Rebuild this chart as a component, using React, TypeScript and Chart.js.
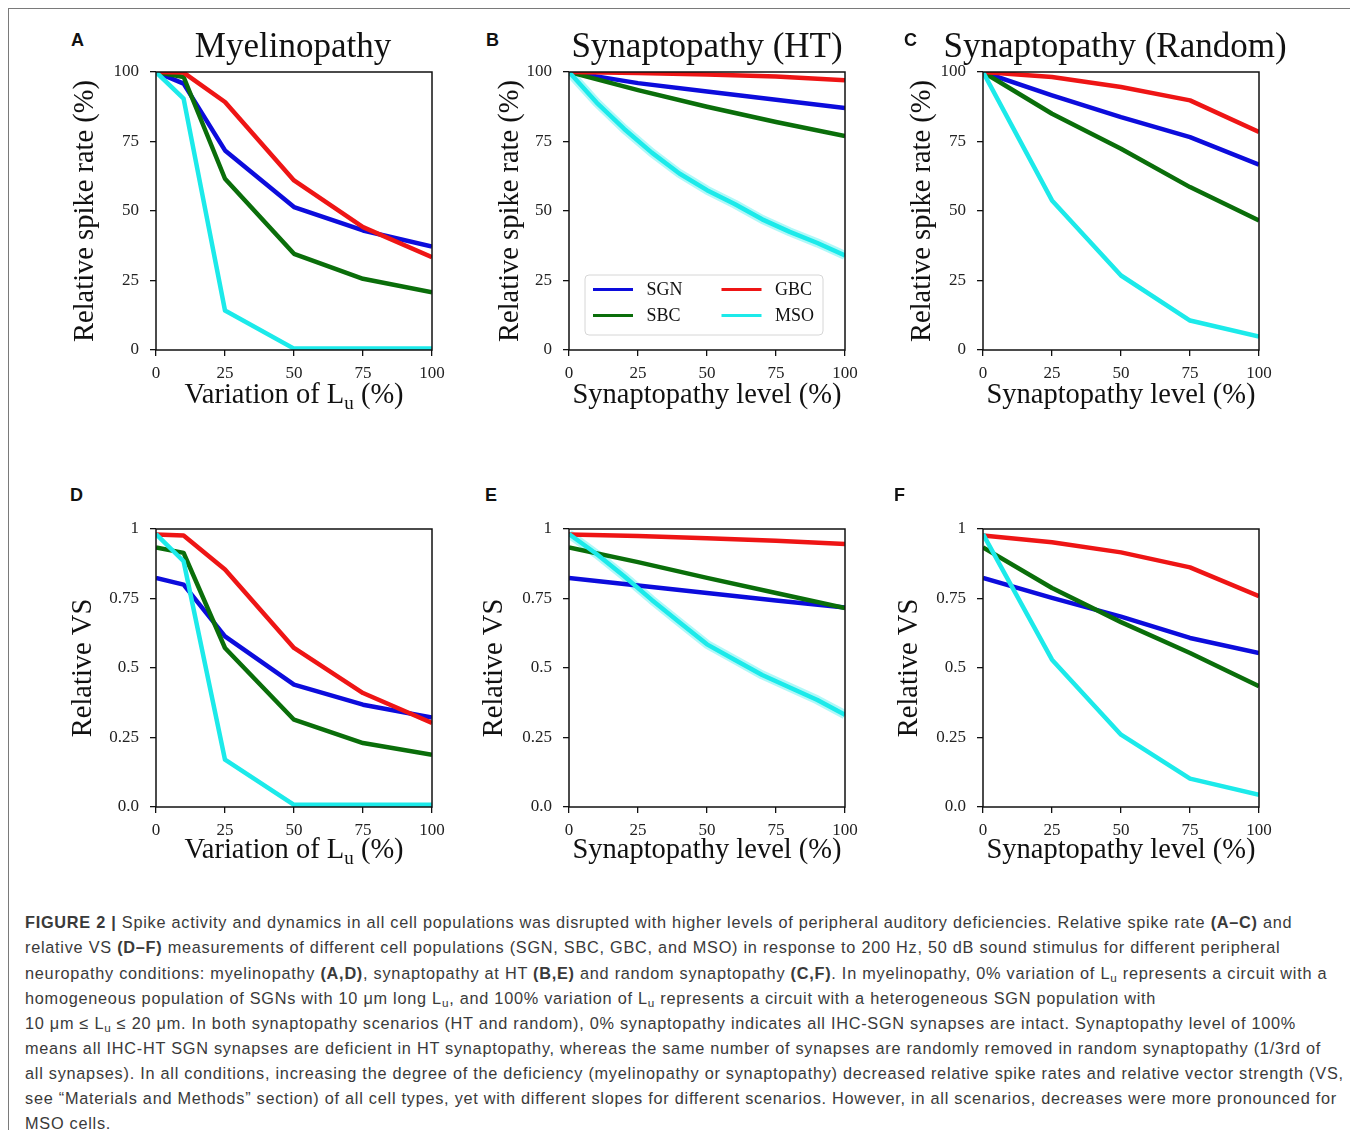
import React, { useEffect, useRef } from 'react';
import { Chart, registerables } from 'chart.js';

Chart.register(...registerables);

// ---------- data ----------
const seriesNames = ['SGN', 'SBC', 'GBC', 'MSO'];
const seriesColors = ['#0c0cdc', '#0a6e0a', '#ee1515', '#1ceaea'];

const xMyelin = [0, 10, 25, 50, 75, 100];
const xSyn = [0, 25, 50, 75, 100];
const xSynFine = [0, 10, 20, 30, 40, 50, 60, 70, 80, 90, 100];

// A: Myelinopathy, relative spike rate (%)
const spikeMyelinSGN = [100, 95.8, 71.8, 51.4, 43, 37.2];
const spikeMyelinSBC = [100, 98.2, 61.6, 34.6, 25.6, 20.8];
const spikeMyelinGBC = [100, 99.8, 89.2, 61, 44.2, 33.4];
const spikeMyelinMSO = [100, 90.4, 14.2, 0.5, 0.5, 0.5];

// B: Synaptopathy (HT), relative spike rate (%)
const spikeHtSGN = [100, 96, 93, 90, 87];
const spikeHtSBC = [100, 93.5, 87.5, 82, 77];
const spikeHtGBC = [100, 99.6, 99.1, 98.4, 97];
const spikeHtMSO = [100, 89, 79.5, 71, 63.5, 57.5, 52.5, 47, 42.5, 38.5, 34];

// C: Synaptopathy (Random), relative spike rate (%)
const spikeRandSGN = [100, 91.6, 83.8, 76.6, 66.7];
const spikeRandSBC = [100, 85, 72.4, 58.6, 46.6];
const spikeRandGBC = [100, 98.2, 94.6, 89.8, 78.4];
const spikeRandMSO = [100, 53.8, 26.8, 10.6, 4.8];

// D: Myelinopathy, relative VS
const vsMyelinSGN = [0.824, 0.8, 0.614, 0.44, 0.368, 0.322];
const vsMyelinSBC = [0.934, 0.914, 0.572, 0.314, 0.23, 0.188];
const vsMyelinGBC = [0.98, 0.977, 0.854, 0.572, 0.41, 0.302];
const vsMyelinMSO = [0.982, 0.884, 0.17, 0.008, 0.008, 0.008];

// E: Synaptopathy (HT), relative VS
const vsHtSGN = [0.824, 0.797, 0.77, 0.743, 0.718];
const vsHtSBC = [0.934, 0.881, 0.824, 0.77, 0.716];
const vsHtGBC = [0.98, 0.975, 0.967, 0.958, 0.946];
const vsHtMSO = [0.982, 0.91, 0.83, 0.745, 0.665, 0.585, 0.53, 0.475, 0.43, 0.385, 0.332];

// F: Synaptopathy (Random), relative VS
const vsRandSGN = [0.824, 0.752, 0.685, 0.608, 0.554];
const vsRandSBC = [0.934, 0.788, 0.665, 0.554, 0.434];
const vsRandGBC = [0.977, 0.952, 0.916, 0.862, 0.758];
const vsRandMSO = [0.982, 0.53, 0.26, 0.102, 0.044];

const xTickLabels = ['0', '25', '50', '75', '100'];
const spikeTickLabels = ['0', '25', '50', '75', '100'];
const vsTickLabels = ['0.0', '0.25', '0.5', '0.75', '1'];

const titleMyelin = 'Myelinopathy';
const titleHt = 'Synaptopathy (HT)';
const titleRand = 'Synaptopathy (Random)';
const yTitleSpike = 'Relative spike rate (%)';
const yTitleVs = 'Relative VS';
const xTitleMyelin = [
  { t: 'Variation of L', sub: false },
  { t: 'u', sub: true },
  { t: ' (%)', sub: false },
];
const xTitleSyn = [{ t: 'Synaptopathy level (%)', sub: false }];

// ---------- layout ----------
const SERIF = "'Liberation Serif', 'Times New Roman', Times, serif";
const SANS = "'Liberation Sans', Arial, Helvetica, sans-serif";
const PLOT_W = 276;
const PLOT_H = 278;
const Y_AXIS_W = 110;
const X_AXIS_H = 70;
const PAD_TOP = 60;
const PAD_RIGHT = 50;
const CANVAS_W = Y_AXIS_W + PLOT_W + PAD_RIGHT;
const CANVAS_H = PAD_TOP + PLOT_H + X_AXIS_H;

type Part = { t: string; sub: boolean };
type PanelSpec = {
  letter: string;
  letterPos: [number, number];
  plotLeft: number;
  plotTop: number;
  title?: string;
  titleShift?: number;
  xTitle: Part[];
  xTitleGap: number;
  yTitle: string;
  yTitleOffset: number;
  yMax: number;
  yStep: number;
  yTickLabels: string[];
  xs: number[][];
  ys: number[][];
  legend?: boolean;
  halo?: boolean;
};

const panels: PanelSpec[] = [
  {
    letter: 'A', letterPos: [71, 30.7], plotLeft: 156, plotTop: 72, title: titleMyelin, titleShift: -1,
    xTitle: xTitleMyelin, xTitleGap: 53, yTitle: yTitleSpike, yTitleOffset: 62,
    yMax: 100, yStep: 25, yTickLabels: spikeTickLabels,
    xs: [xMyelin, xMyelin, xMyelin, xMyelin],
    ys: [spikeMyelinSGN, spikeMyelinSBC, spikeMyelinGBC, spikeMyelinMSO],
  },
  {
    letter: 'B', letterPos: [486, 31.3], plotLeft: 569, plotTop: 72, title: titleHt, titleShift: 0,
    xTitle: xTitleSyn, xTitleGap: 53, yTitle: yTitleSpike, yTitleOffset: 50,
    yMax: 100, yStep: 25, yTickLabels: spikeTickLabels,
    xs: [xSyn, xSyn, xSyn, xSynFine],
    ys: [spikeHtSGN, spikeHtSBC, spikeHtGBC, spikeHtMSO], legend: true, halo: true,
  },
  {
    letter: 'C', letterPos: [904, 31.3], plotLeft: 983, plotTop: 72, title: titleRand, titleShift: -6,
    xTitle: xTitleSyn, xTitleGap: 53, yTitle: yTitleSpike, yTitleOffset: 52,
    yMax: 100, yStep: 25, yTickLabels: spikeTickLabels,
    xs: [xSyn, xSyn, xSyn, xSyn],
    ys: [spikeRandSGN, spikeRandSBC, spikeRandGBC, spikeRandMSO],
  },
  {
    letter: 'D', letterPos: [70, 486.3], plotLeft: 156, plotTop: 529,
    xTitle: xTitleMyelin, xTitleGap: 51, yTitle: yTitleVs, yTitleOffset: 64,
    yMax: 1, yStep: 0.25, yTickLabels: vsTickLabels,
    xs: [xMyelin, xMyelin, xMyelin, xMyelin],
    ys: [vsMyelinSGN, vsMyelinSBC, vsMyelinGBC, vsMyelinMSO],
  },
  {
    letter: 'E', letterPos: [485, 486.3], plotLeft: 569, plotTop: 529,
    xTitle: xTitleSyn, xTitleGap: 51, yTitle: yTitleVs, yTitleOffset: 66,
    yMax: 1, yStep: 0.25, yTickLabels: vsTickLabels,
    xs: [xSyn, xSyn, xSyn, xSynFine],
    ys: [vsHtSGN, vsHtSBC, vsHtGBC, vsHtMSO], halo: true,
  },
  {
    letter: 'F', letterPos: [894, 486.3], plotLeft: 983, plotTop: 529,
    xTitle: xTitleSyn, xTitleGap: 51, yTitle: yTitleVs, yTitleOffset: 65,
    yMax: 1, yStep: 0.25, yTickLabels: vsTickLabels,
    xs: [xSyn, xSyn, xSyn, xSyn],
    ys: [vsRandSGN, vsRandSBC, vsRandGBC, vsRandMSO],
  },
];

function makePanelPlugin(spec: PanelSpec) {
  return {
    id: 'panelDecor' + spec.letter,
    afterDatasetsDraw(chart: any) {
      const { ctx, chartArea: a } = chart;
      ctx.save();
      ctx.strokeStyle = '#111';
      ctx.lineWidth = 1.5;
      ctx.strokeRect(a.left, a.top, a.right - a.left, a.bottom - a.top);
      ctx.restore();
    },
    afterDraw(chart: any) {
      const { ctx, chartArea: a } = chart;
      const cx = (a.left + a.right) / 2;
      ctx.save();
      ctx.fillStyle = '#111';
      ctx.textBaseline = 'alphabetic';
      // panel title
      if (spec.title) {
        ctx.font = `35px ${SERIF}`;
        ctx.textAlign = 'center';
        ctx.fillText(spec.title, cx + (spec.titleShift || 0), a.top - 15);
      }
      // x axis title (with subscript support)
      ctx.textAlign = 'left';
      const mainFont = `28.5px ${SERIF}`;
      const subFont = `19px ${SERIF}`;
      let total = 0;
      const widths = spec.xTitle.map((p) => {
        ctx.font = p.sub ? subFont : mainFont;
        const w = ctx.measureText(p.t).width;
        total += w;
        return w;
      });
      let x = cx - total / 2;
      const by = a.bottom + spec.xTitleGap;
      spec.xTitle.forEach((p, i) => {
        ctx.font = p.sub ? subFont : mainFont;
        ctx.fillText(p.t, x, p.sub ? by + 6 : by);
        x += widths[i];
      });
      // legend
      if (spec.legend) {
        const bx = a.left + 16;
        const byy = a.top + 203;
        const bw = 238;
        const bh = 60;
        ctx.beginPath();
        ctx.roundRect(bx, byy, bw, bh, 4);
        ctx.fillStyle = 'rgba(255,255,255,0.85)';
        ctx.fill();
        ctx.strokeStyle = '#d6d6d6';
        ctx.lineWidth = 1;
        ctx.stroke();
        ctx.font = `18px ${SERIF}`;
        ctx.textBaseline = 'middle';
        chart.data.datasets
          .filter((ds: any) => !ds.isHalo)
          .forEach((ds: any, i: number) => {
            const col = Math.floor(i / 2);
            const row = i % 2;
            const lx = bx + 8 + col * 128.5;
            const ly = byy + 14.5 + row * 26;
            ctx.strokeStyle = ds.borderColor;
            ctx.lineWidth = 3;
            ctx.beginPath();
            ctx.moveTo(lx, ly);
            ctx.lineTo(lx + 40, ly);
            ctx.stroke();
            ctx.fillStyle = '#111';
            ctx.fillText(ds.label, lx + 53.5, ly + 1);
          });
      }
      ctx.restore();
    },
  };
}

function Panel({ spec }: { spec: PanelSpec }) {
  const ref = useRef<HTMLCanvasElement | null>(null);
  useEffect(() => {
    if (!ref.current) return;
    const datasets: any[] = seriesNames.map((name, i) => ({
      label: name,
      data: spec.xs[i].map((x, j) => ({ x, y: spec.ys[i][j] })),
      borderColor: seriesColors[i],
      backgroundColor: seriesColors[i],
      borderWidth: 4.5,
      pointRadius: 0,
      tension: 0,
      fill: false,
      borderJoinStyle: 'round' as const,
      borderCapStyle: 'butt' as const,
      order: seriesNames.length - i,
    }));
    if (spec.halo) {
      // faint spread band around the MSO trace, drawn from the same values
      datasets.push({
        label: 'MSO band',
        isHalo: true,
        data: spec.xs[3].map((x, j) => ({ x, y: spec.ys[3][j] })),
        borderColor: 'rgba(28,234,234,0.35)',
        borderWidth: 9,
        pointRadius: 0,
        tension: 0,
        fill: false,
        borderJoinStyle: 'round' as const,
        order: 10,
      });
    }
    const chart = new Chart(ref.current, {
      type: 'line',
      data: { datasets },
      plugins: [makePanelPlugin(spec)],
      options: {
        responsive: false,
        animation: false,
        events: [],
        layout: { padding: { top: PAD_TOP, right: PAD_RIGHT, left: 0, bottom: 0 } },
        plugins: {
          legend: { display: false },
          title: { display: false },
          tooltip: { enabled: false },
        },
        scales: {
          x: {
            type: 'linear',
            min: 0,
            max: 100,
            afterFit: (s: any) => { s.height = X_AXIS_H; },
            grid: { display: true, drawOnChartArea: false, drawTicks: true, tickLength: 6, color: '#111', lineWidth: 1.3 },
            border: { display: false },
            ticks: {
              stepSize: 25,
              padding: 7,
              color: '#222',
              font: { family: SERIF, size: 17 },
              callback: (_v: any, i: number) => xTickLabels[i],
            },
            title: { display: false },
          },
          y: {
            type: 'linear',
            min: 0,
            max: spec.yMax,
            afterFit: (s: any) => { s.width = Y_AXIS_W; },
            grid: { display: true, drawOnChartArea: false, drawTicks: true, tickLength: 6, color: '#111', lineWidth: 1.3 },
            border: { display: false },
            ticks: {
              stepSize: spec.yStep,
              padding: 11,
              color: '#222',
              font: { family: SERIF, size: 17 },
              callback: (_v: any, i: number) => spec.yTickLabels[i],
            },
            title: {
              display: true,
              text: spec.yTitle,
              color: '#111',
              font: { family: SERIF, size: 28.5 },
              padding: { top: 84.2 - spec.yTitleOffset, bottom: 0 },
            },
          },
        },
      } as any,
    });
    return () => chart.destroy();
  }, [spec]);

  return (
    <>
      <div
        style={{
          position: 'absolute',
          left: spec.letterPos[0] - 8,
          top: spec.letterPos[1] - 8,
          font: `bold 18px ${SANS}`,
          lineHeight: '18px',
          color: '#111',
        }}
      >
        {spec.letter}
      </div>
      <canvas
        ref={ref}
        width={CANVAS_W}
        height={CANVAS_H}
        style={{
          position: 'absolute',
          left: spec.plotLeft - Y_AXIS_W - 8,
          top: spec.plotTop - PAD_TOP - 8,
          width: CANVAS_W,
          height: CANVAS_H,
        }}
      />
    </>
  );
}

const subStyle: React.CSSProperties = { fontSize: '0.72em', verticalAlign: '-0.28em', lineHeight: 0 };
const Lu = () => (
  <>
    L<span style={subStyle}>u</span>
  </>
);

const captionLines: React.ReactNode[] = [
  <>
    <b>FIGURE 2 |</b> Spike activity and dynamics in all cell populations was disrupted with higher levels of peripheral auditory deficiencies. Relative spike rate <b>(A–C)</b> and
  </>,
  <>
    relative VS <b>(D–F)</b> measurements of different cell populations (SGN, SBC, GBC, and MSO) in response to 200 Hz, 50 dB sound stimulus for different peripheral
  </>,
  <>
    neuropathy conditions: myelinopathy <b>(A,D)</b>, synaptopathy at HT <b>(B,E)</b> and random synaptopathy <b>(C,F)</b>. In myelinopathy, 0% variation of <Lu /> represents a circuit with a
  </>,
  <>
    homogeneous population of SGNs with 10 μm long <Lu />, and 100% variation of <Lu /> represents a circuit with a heterogeneous SGN population with
  </>,
  <>
    10 μm ≤ <Lu /> ≤ 20 μm. In both synaptopathy scenarios (HT and random), 0% synaptopathy indicates all IHC-SGN synapses are intact. Synaptopathy level of 100%
  </>,
  <>
    means all IHC-HT SGN synapses are deficient in HT synaptopathy, whereas the same number of synapses are randomly removed in random synaptopathy (1/3rd of
  </>,
  <>
    all synapses). In all conditions, increasing the degree of the deficiency (myelinopathy or synaptopathy) decreased relative spike rates and relative vector strength (VS,
  </>,
  <>
    see “Materials and Methods” section) of all cell types, yet with different slopes for different scenarios. However, in all scenarios, decreases were more pronounced for
  </>,
  <>MSO cells.</>,
];

export default function App() {
  return (
    <div style={{ position: 'relative', width: 1342, height: 1122, background: '#fff' }}>
      <div
        style={{
          position: 'absolute',
          left: 0,
          top: 0,
          width: 1347,
          height: 1130,
          borderTop: '1px solid #7a7a7a',
          borderLeft: '1px solid #7a7a7a',
          borderRight: '1px solid #7a7a7a',
          boxSizing: 'border-box',
        }}
      />
      {panels.map((p) => (
        <Panel key={p.letter} spec={p} />
      ))}
      {captionLines.map((line, i) => (
        <div
          key={i}
          style={{
            position: 'absolute',
            left: 17,
            top: 902.3 + i * 25.1,
            whiteSpace: 'nowrap',
            font: `16.3px ${SANS}`,
            letterSpacing: '0.74px',
            lineHeight: '25px',
            color: '#3a3a3a',
          }}
        >
          {line}
        </div>
      ))}
    </div>
  );
}
